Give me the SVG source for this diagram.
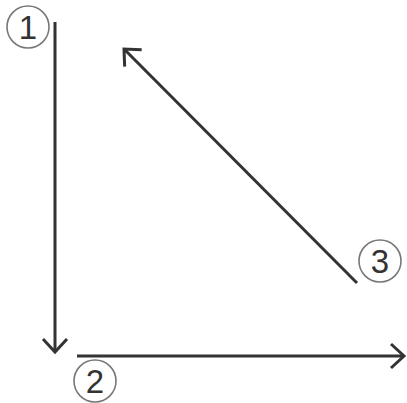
<svg xmlns="http://www.w3.org/2000/svg" width="407" height="403" viewBox="0 0 407 403">
<style>
.c{fill:none;stroke:#777;stroke-width:1.6}
.t{font-family:"Liberation Sans",Arial,sans-serif;font-size:33px;fill:#333;text-anchor:middle}
.l{stroke:#333;stroke-width:3;fill:none}
</style>
<defs>
<marker id="a" markerUnits="userSpaceOnUse" markerWidth="30" markerHeight="30" viewBox="-15 -15 30 30" refX="0" refY="0" orient="auto">
<path d="M-13,-12 L0,0 L-13,12" fill="none" stroke="#333" stroke-width="3" stroke-linejoin="miter"/>
</marker>
</defs>
<rect width="407" height="403" fill="#fff"/>
<g id="connectors">
<line class="l" x1="55" y1="22" x2="55" y2="352" marker-end="url(#a)"/>
<line class="l" x1="77" y1="356" x2="404" y2="356" marker-end="url(#a)"/>
<line class="l" x1="357" y1="283" x2="124" y2="49" marker-end="url(#a)"/>
</g>
<g id="n1"><circle class="c" cx="28" cy="27" r="21"/><text class="t" x="28" y="39">1</text></g>
<g id="n2"><circle class="c" cx="95" cy="381" r="21"/><text class="t" x="95" y="393">2</text></g>
<g id="n3"><circle class="c" cx="380" cy="261" r="21"/><text class="t" x="380" y="273">3</text></g>
</svg>
